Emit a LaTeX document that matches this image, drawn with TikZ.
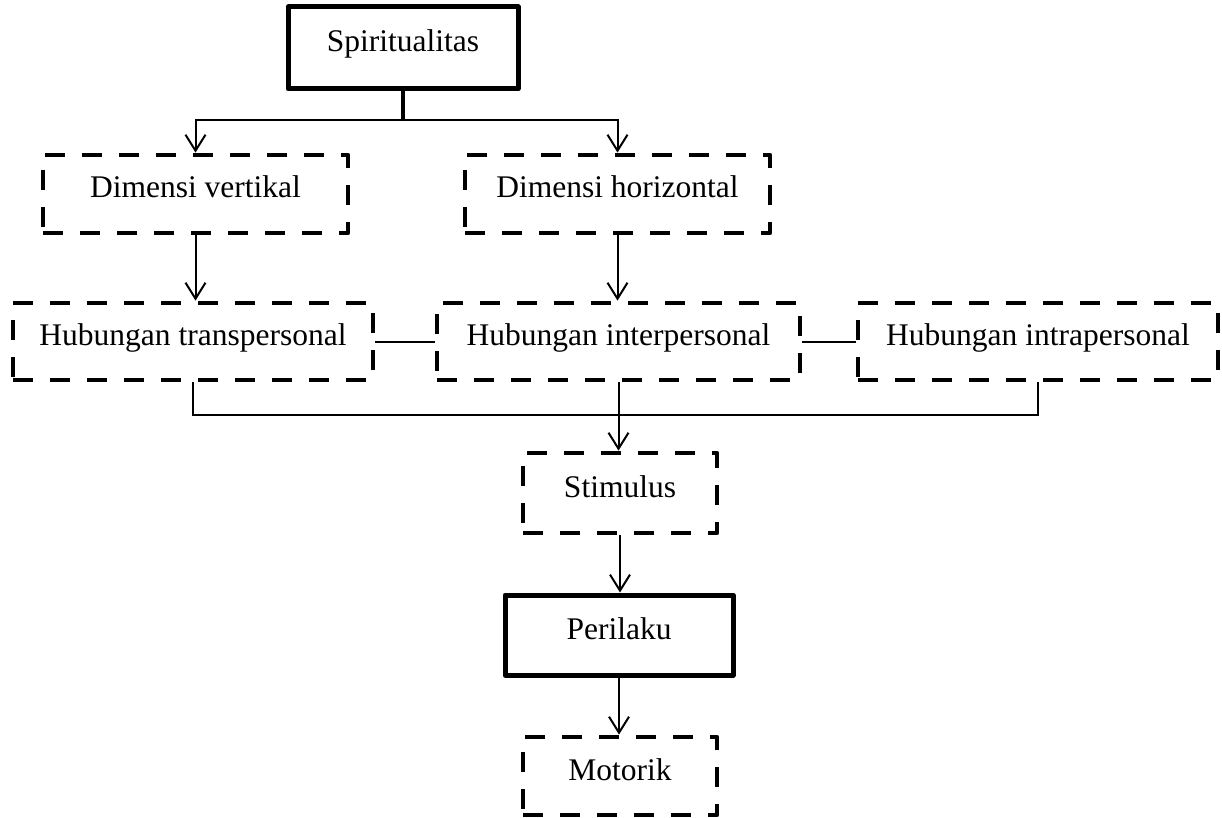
\documentclass[tikz,border=0pt]{standalone}
\usepackage{fontspec}
\setmainfont{Liberation Serif}
\usetikzlibrary{arrows.meta}
\begin{document}
\begin{tikzpicture}[x=1pt,y=-1pt,
  font=\fontsize{31.5}{36}\selectfont,
  solidbox/.style={draw, line width=5pt, line join=round, inner sep=0pt, text height=22pt, text depth=14pt, anchor=center},
  dashbox/.style={draw, line width=4.8pt, line join=round, dash pattern=on 20pt off 17pt, inner sep=0pt, text height=22pt, text depth=14pt, anchor=center},
  conn/.style={line width=2pt},
  arr/.style={line width=2pt, -{Straight Barb[length=16pt,width=20pt,line width=2pt]}}
]
\useasboundingbox (0,0) rectangle (1222,818);
\node[solidbox, minimum width=230pt, minimum height=82pt] (sp) at (403,48) {Spiritualitas};
\node[dashbox, minimum width=305pt, minimum height=78pt] (dv) at (195.5,194) {Dimensi vertikal};
\node[dashbox, minimum width=305pt, minimum height=78pt] (dh) at (617.5,194) {Dimensi horizontal};
\node[dashbox, minimum width=360pt, minimum height=77pt] (ht) at (193,341.5) {Hubungan transpersonal};
\node[dashbox, minimum width=363pt, minimum height=77pt] (hi) at (618.5,341.5) {Hubungan interpersonal};
\node[dashbox, minimum width=360pt, minimum height=77pt] (hr) at (1038,341.5) {Hubungan intrapersonal};
\node[dashbox, minimum width=194pt, minimum height=80pt] (st) at (620,493) {Stimulus};
\node[solidbox, minimum width=228pt, minimum height=80pt] (pe) at (619,635) {Perilaku};
\node[dashbox, minimum width=194pt, minimum height=78pt] (mo) at (620,776) {Motorik};

\coordinate (sj) at (403,120);
\draw[line width=3.5pt] (sp.south) -- (sj);
\draw[arr] (sj) -| (dv.north);
\draw[arr] (sj) -| (dh.north);
\draw[arr] (dv.south) -- (dv.south |- ht.north);
\draw[arr] (dh.south) -- (dh.south |- hi.north);
\draw[conn] (ht.east) -- (hi.west);
\draw[conn] (hi.east) -- (hr.west);
\coordinate (bus) at (0,415);
\draw[conn] (ht.south) -- (ht.south |- bus) -| (hr.south);
\draw[arr] (hi.south) -- (hi.south |- st.north);
\draw[arr] (st.south) -- (st.south |- pe.north);
\draw[arr] (pe.south) -- (pe.south |- mo.north);
\end{tikzpicture}
\end{document}
